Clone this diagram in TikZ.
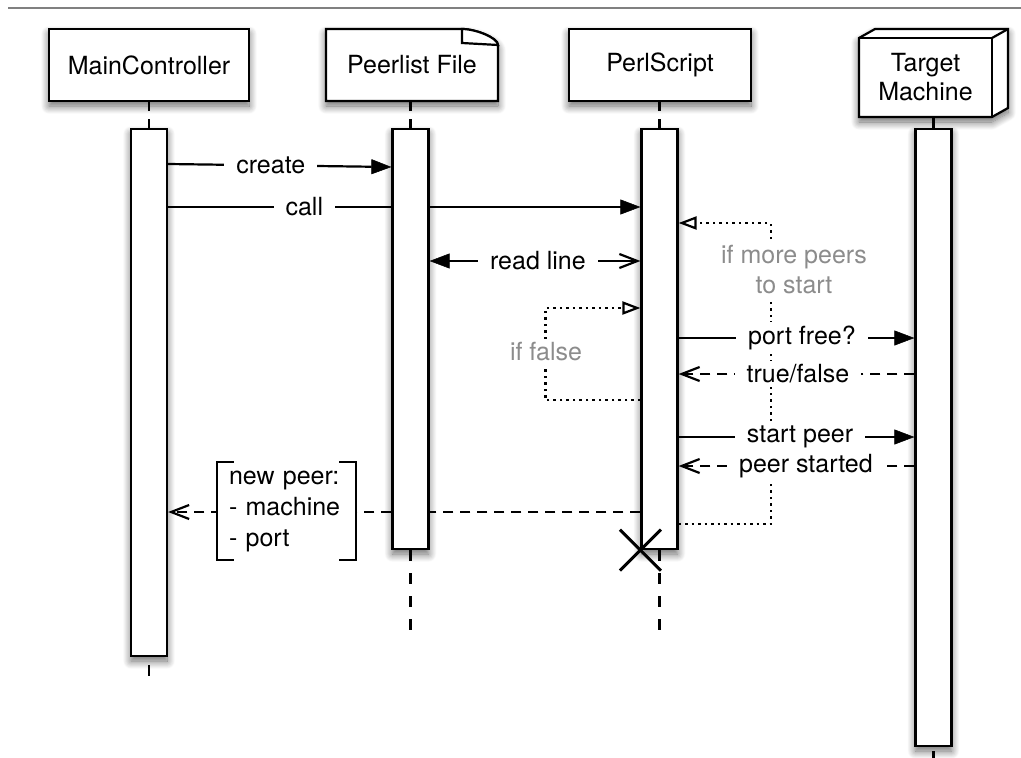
\documentclass[tikz,border=0pt]{standalone}
\usepackage{fontspec}
\setmainfont{TeX Gyre Heros}
\usetikzlibrary{arrows.meta,shadows.blur}
\definecolor{notegray}{HTML}{8C8C8C}
\definecolor{rulegray}{HTML}{808080}
\begin{document}
\begin{tikzpicture}[x=1pt,y=-1pt,
  font=\fontsize{25}{30}\selectfont,
  line width=2.2pt,
  softshadow/.style={blur shadow={shadow xshift=0pt,shadow yshift=-5pt,shadow blur radius=8pt,shadow blur steps=12,shadow opacity=60}},
  actorbox/.style={draw,fill=white,softshadow,inner sep=0pt,minimum height=72pt,align=center},
  actbar/.style={draw,fill=white,softshadow,inner sep=0pt,minimum width=36pt},
  lifeline/.style={dash pattern=on 11pt off 12pt},
  msglabel/.style={fill=white,inner xsep=12pt,inner ysep=4pt},
  guard/.style={fill=white,text=notegray,inner xsep=4pt,inner ysep=4pt,align=center},
  filledtip/.tip={Triangle[length=20pt,width=15pt,fill=black,line width=0.5pt]},
  callmsg/.style={-filledtip},
  returnmsg/.style={dash pattern=on 10pt off 7pt,-{Straight Barb[length=18pt,width=14pt]}},
  selfloop/.style={dash pattern=on 2.5pt off 4pt,-{Triangle[length=18pt,width=13pt,fill=white]}},
]
\useasboundingbox (0,0) rectangle (1021,758);

% top rule
\draw[rulegray,line width=2pt] (8,8) -- (1021,8);

% document outline with dog-ear
\draw[fill=white,softshadow] (326,101) -- (326,29) -- (462,29)
  .. controls (476,29) and (498,38) .. (498,45) -- (498,101) -- cycle;
\draw[fill=white] (462,29) -- (462,43) -- (498,45) .. controls (498,38) and (476,29) .. (462,29) -- cycle;
% 3D node box
\draw[fill=white,softshadow] (859,117) -- (859,38) -- (875,29) -- (1008,29) -- (1008,108) -- (992,117) -- cycle;
\draw (859,38) rectangle (992,117);
\draw (992,38) -- (1008,29);

% participants
\node[actorbox,minimum width=200pt] (mc) at (149,65) {MainController};
\node[actorbox,minimum width=182pt] (ps) at (660,65) {PerlScript};
\node[inner sep=0pt,minimum width=172pt,minimum height=72pt] (pf) at (412,65) {Peerlist File};
\node[inner sep=0pt,minimum width=133pt,minimum height=79pt,align=center,
      font=\fontsize{25}{29}\selectfont] (tm) at (925.5,77.5) {Target\\Machine};

% activation bars
\node[actbar,minimum height=527pt] (mcb) at (149,392.5) {};
\node[actbar,minimum height=420pt] (pfb) at (410.5,339) {};
\node[actbar,minimum height=420pt] (psb) at (659.5,339) {};
\node[actbar,minimum height=617pt] (tmb) at (933.5,437.5) {};

% lifelines
\coordinate (mcend) at (149,676);
\coordinate (pfend) at (410.5,640);
\coordinate (psend) at (659.5,640);
\coordinate (tmend) at (933.5,758);
\draw[dash pattern=on 9pt off 8pt] (mcb.north |- mc.south) -- (mcb.north);
\draw[dash pattern=on 9pt off 8pt] (pfb.north |- pf.south) -- (pfb.north);
\draw[dash pattern=on 9pt off 8pt] (psb.north |- ps.south) -- (psb.north);
\draw (tmb.north |- tm.south) -- (tmb.north);
\draw[lifeline,dash phase=-8pt] (mcb.south) -- (mcend);
\draw[lifeline] (pfb.south) -- (pfend);
\draw[lifeline] (psb.south) -- (psend);
\draw[lifeline,dash phase=-4pt] (tmb.south) -- (tmend);

% self loops
\draw[selfloop] (psb.east |- 0,524) -- ++(92,0) |- (psb.east |- 0,223);
\node[guard] (more) at (794,270) {if more peers\\to start};
\draw[selfloop] (psb.west |- 0,400) -- ++(-95,0) |- (psb.west |- 0,308);
\node[guard] (iffalse) at (546,352) {if false};

% messages
\draw[callmsg] (mcb.east |- 0,164) -- (pfb.west |- 0,167)
  node[msglabel,pos=0.46] (create) {create};
\draw (mcb.east |- 0,207) -- (pfb.west |- 0,207)
  node[msglabel,pos=0.61] (call) {call};
\draw[callmsg] (pfb.east |- 0,207) -- (psb.west |- 0,207);
\draw[filledtip-{Straight Barb[length=18pt,width=14pt]}]
  (pfb.east |- 0,261) -- (psb.west |- 0,261)
  node[msglabel,pos=0.514] (readline) {read line};
\draw[callmsg] (psb.east |- 0,338) -- (tmb.west |- 0,338)
  node[msglabel,pos=0.523] (portfree) {port free?};
\draw[returnmsg] (tmb.west |- 0,374) -- (psb.east |- 0,374)
  node[msglabel,pos=0.494] (truefalse) {true/false};
\draw[callmsg] (psb.east |- 0,437) -- (tmb.west |- 0,437)
  node[msglabel,pos=0.515] (startpeer) {start peer};
\draw[returnmsg] (tmb.west |- 0,466) -- (psb.east |- 0,466)
  node[msglabel,pos=0.46] (peerstarted) {peer started};

% result returned to the controller
\draw[dash pattern=on 10pt off 7pt] (psb.west |- 0,512) -- (pfb.east |- 0,512);
\draw[returnmsg] (pfb.west |- 0,512) -- (mcb.east |- 0,512);
\node[fill=white,inner xsep=11pt,inner ysep=0pt,text width=115pt,minimum height=96pt,
      align=left,font=\fontsize{25}{31}\selectfont] (np) at (286.5,511)
  {new peer:\\- machine\\- port};
\draw ([xshift=17pt]np.north west) -- (np.north west) -- (np.south west) -- ([xshift=17pt]np.south west);
\draw ([xshift=-17pt]np.north east) -- (np.north east) -- (np.south east) -- ([xshift=-17pt]np.south east);

% destruction of the script
\draw[line width=3pt] ([shift={(-20.5,-20.5)}]psb.south west) -- ([shift={(20.5,20.5)}]psb.south west);
\draw[line width=3pt] ([shift={(-20.5,20.5)}]psb.south west) -- ([shift={(20.5,-20.5)}]psb.south west);
\end{tikzpicture}
\end{document}
